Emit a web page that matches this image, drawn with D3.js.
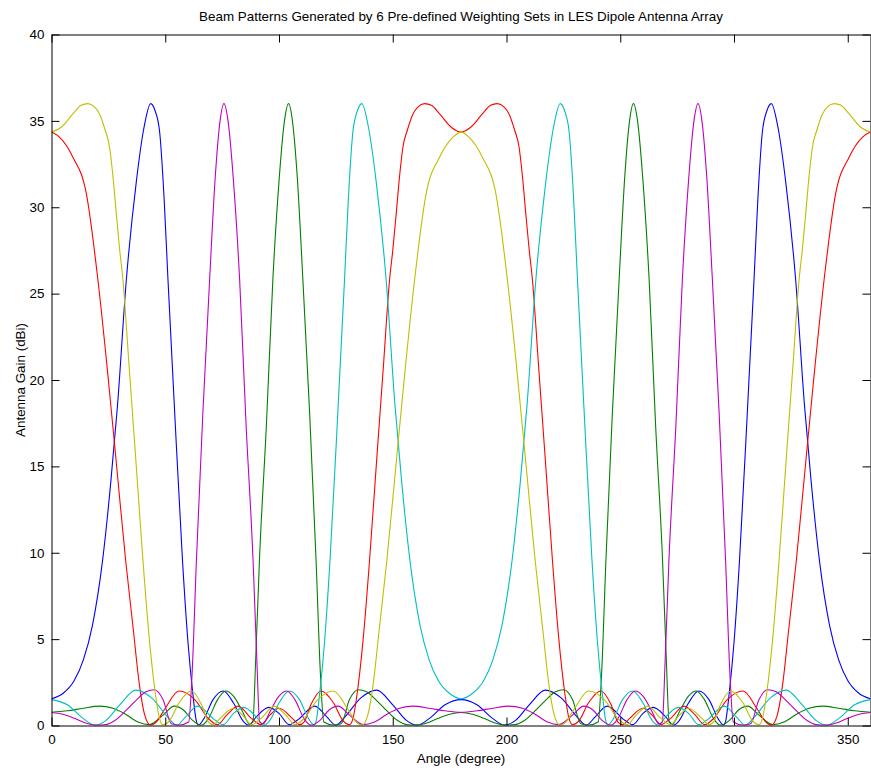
<!DOCTYPE html>
<html>
<head>
<meta charset="utf-8">
<script src="https://cdn.jsdelivr.net/npm/d3@7"></script>
<style>
  body { margin: 0; background: #fff; }
  text { font-family: "Liberation Sans", Arial, Helvetica, sans-serif; fill: #000; }
</style>
</head>
<body>
<svg id="chart" width="871" height="772"></svg>
<script>
// ---- chart text ----
const titleText = "Beam Patterns Generated by 6 Pre-defined Weighting Sets in LES Dipole Antenna Array";
const xLabel = "Angle (degree)";
const yLabel = "Antenna Gain (dBi)";

// ---- axis ticks ----
const xTicks = [0, 50, 100, 150, 200, 250, 300, 350];
const yTicks = [0, 5, 10, 15, 20, 25, 30, 35, 40];

// ---- beam patterns: [angle (deg), gain (dBi)] ----
const beamBlue = [
  [0,1.55],[5,1.85],[10,2.6],[14,3.8],[18,5.8],[22.4,9.5],[26,14],[29,18.5],[32.9,25.8],[37.3,31.5],
  [40.5,34.5],[43.6,36.0],[45.5,35.6],[47.5,34.4],[49.5,30.5],[51.2,25.8],[54,18.5],[57.6,9.5],[60,4.8],
  [62,2],[63.6,0.3],[64.5,0.02],[67,0.4],[71,1.5],[75.5,2.0],[80,1.3],[84,0.3],[86.5,0.02],[90,0.5],
  [95.5,1.05],[100,0.7],[104.5,0.05],[108,0.3],[115.8,1.12],[121,0.5],[125,0.02],[129,0.5],[136,1.6],
  [142.9,2.05],[150,1.2],[156,0.3],[160.9,0.02],[166,0.4],[173,1.2],[180,1.5],
  [187,1.2],[194,0.4],[199.1,0.02],[204,0.3],[210,1.2],[217.1,2.05],[224,1.6],[231,0.5],[235,0.02],
  [239,0.5],[244.2,1.12],[252,0.3],[255.5,0.05],[260,0.7],[264.5,1.05],[270,0.5],[273.5,0.02],[276,0.3],
  [280,1.3],[284.5,2.0],[289,1.5],[293,0.4],[295.5,0.02],[296.4,0.3],[298,2],[300,4.8],[302.4,9.5],
  [306,18.5],[308.8,25.8],[310.5,30.5],[312.5,34.4],[314.5,35.6],[316.4,36.0],[319.5,34.5],[322.7,31.5],
  [327.1,25.8],[331,18.5],[334,14],[337.6,9.5],[342,5.8],[346,3.8],[350,2.6],[355,1.85],[360,1.55]
];

const beamGreen = [
  [0,0.77],[7,0.85],[14,1.0],[21,1.12],[27,1.0],[32,0.7],[38,0.2],[43,0.05],[49,0.6],[54,1.12],
  [58,0.9],[62,0.3],[66,0.02],[69,0.4],[73,1.5],[76.6,2.0],[80,1.7],[84,0.8],[87,0.1],[88.5,0.2],
  [89.8,4],[91.4,9.55],[94.5,17.5],[97.3,25.8],[100,31.5],[102.4,35],[104.2,36],[106,34.9],[108,31.8],
  [110.5,25.8],[113.5,18],[116.3,9.55],[118.2,3],[119.7,0.2],[124,0.02],[127.3,0.1],[131,1.5],
  [134.7,2.07],[138.5,1.95],[142.5,1.5],[147,0.9],[152,0.3],[156,0.05],[160,0.02],[165,0.15],
  [170,0.42],[175,0.65],[180,0.75],
  [185,0.65],[190,0.42],[195,0.15],[200,0.02],[204,0.05],[208,0.3],[213,0.9],[217.5,1.5],[221.5,1.95],
  [225.3,2.07],[229,1.5],[232.7,0.1],[236,0.02],[240.3,0.2],[241.8,3],[243.7,9.55],[246.5,18],
  [249.5,25.8],[252,31.8],[254,34.9],[255.8,36],[257.6,35],[260,31.5],[262.7,25.8],[265.5,17.5],
  [268.6,9.55],[270.2,4],[271.5,0.2],[273,0.1],[276,0.8],[280,1.7],[283.4,2.0],[287,1.5],[291,0.4],
  [294,0.02],[298,0.3],[302,0.9],[306,1.12],[311,0.6],[317,0.05],[322,0.2],[328,0.7],[333,1.0],
  [339,1.12],[346,1.0],[353,0.85],[360,0.77]
];

const beamRed = [
  [0,34.35],[3.5,34.06],[9.4,32.9],[15.3,30.8],[20.4,25.8],[25,20],[29,14.5],[32.6,9.55],[36,5.5],
  [38.5,2.5],[41,0.6],[43.5,0.02],[46,0.2],[50,1.0],[56,2.0],[63,1.5],[69,0.4],[73,0.05],[77,0.6],
  [82,1.12],[88,0.4],[92,0.05],[96,0.6],[100,1.0],[106,0.4],[109,0.05],[111,0.2],[114,1.2],
  [118.5,2.0],[124,1.3],[128,0.3],[131,0.05],[132.5,0.4],[134.5,2],[137,5],[139.8,9.55],[143,15.5],
  [146,21],[148.6,25.8],[150,27.5],[151.5,29.6],[153,31.8],[154.5,33.5],[156.5,34.5],[158.9,35.4],
  [161,35.8],[164,36.0],[167,35.9],[170.6,35.4],[176,34.6],[180,34.35],
  [184,34.6],[189.4,35.4],[193,35.9],[196,36.0],[199,35.8],[201.1,35.4],[203.5,34.5],[205.5,33.5],
  [207,31.8],[208.5,29.6],[210,27.5],[211.4,25.8],[214,21],[217,15.5],[220.2,9.55],[223,5],
  [225.5,2],[227.5,0.4],[229,0.05],[232,0.3],[236,1.3],[241.5,2.0],[246,1.2],[249,0.2],[251,0.05],
  [254,0.4],[260,1.0],[264,0.6],[268,0.05],[272,0.4],[278,1.12],[283,0.6],[287,0.05],[291,0.4],
  [297,1.5],[304,2.0],[310,1.0],[314,0.2],[316.5,0.02],[319,0.6],[321.5,2.5],[324,5.5],[327.4,9.55],
  [331,14.5],[335,20],[339.6,25.8],[344.7,30.8],[350.6,32.9],[356.5,34.06],[360,34.35]
];

const beamCyan = [
  [0,1.5],[7,1.2],[14,0.4],[19.1,0.02],[24,0.3],[30,1.2],[37.1,2.05],[44,1.6],[51,0.5],[55,0.02],
  [59,0.5],[64.2,1.12],[72,0.3],[75.5,0.05],[80,0.7],[84.5,1.05],[90,0.5],[93.5,0.02],[96,0.3],
  [100,1.3],[104.5,2.0],[109,1.5],[113,0.4],[115.5,0.02],[116.4,0.3],[118,2],[120,4.8],[122.4,9.5],
  [126,18.5],[128.8,25.8],[130.5,30.5],[132.5,34.4],[134.5,35.6],[136.4,36.0],[139.5,34.5],
  [142.7,31.5],[147.1,25.8],[151,18.5],[154,14],[157.6,9.5],[162,5.8],[166,3.8],[170,2.6],
  [175,1.85],[180,1.55],
  [185,1.85],[190,2.6],[194,3.8],[198,5.8],[202.4,9.5],[206,14],[209,18.5],[212.9,25.8],[217.3,31.5],
  [220.5,34.5],[223.6,36],[225.5,35.6],[227.5,34.4],[229.5,30.5],[231.2,25.8],[234,18.5],[237.6,9.5],
  [240,4.8],[242,2],[243.6,0.3],[244.5,0.02],[247,0.4],[251,1.5],[255.5,2.0],[260,1.3],[264,0.3],
  [266.5,0.02],[270,0.5],[275.5,1.05],[280,0.7],[284.5,0.05],[288,0.3],[295.8,1.12],[301,0.5],
  [305,0.02],[309,0.5],[316,1.6],[322.9,2.05],[330,1.2],[336,0.3],[340.9,0.02],[346,0.4],[353,1.2],
  [360,1.5]
];

const beamMagenta = [
  [0,0.75],[5,0.65],[10,0.42],[15,0.15],[20,0.02],[24,0.05],[28,0.3],[33,0.9],[37.5,1.5],[41.5,1.95],
  [45.3,2.07],[49,1.5],[52.7,0.1],[56,0.02],[60.3,0.2],[61.8,3],[63.7,9.55],[66.5,18],[69.5,25.8],
  [72,31.8],[74,34.9],[75.8,36],[77.6,35],[80,31.5],[82.7,25.8],[85.5,17.5],[88.6,9.55],[90.2,4],
  [91.5,0.2],[93,0.1],[96,0.8],[100,1.7],[103.4,2.0],[107,1.5],[111,0.4],[114,0.02],[118,0.3],
  [122,0.9],[126,1.12],[131,0.6],[137,0.05],[142,0.2],[148,0.7],[153,1.0],[159,1.12],[166,1.0],
  [173,0.85],[180,0.77],
  [187,0.85],[194,1.0],[201,1.12],[207,1.0],[212,0.7],[218,0.2],[223,0.05],[229,0.6],[234,1.12],
  [238,0.9],[242,0.3],[246,0.02],[249,0.4],[253,1.5],[256.6,2.0],[260,1.7],[264,0.8],[267,0.1],
  [268.5,0.2],[269.8,4],[271.4,9.55],[274.5,17.5],[277.3,25.8],[280,31.5],[282.4,35],[284.2,36],
  [286,34.9],[288,31.8],[290.5,25.8],[293.5,18],[296.3,9.55],[298.2,3],[299.7,0.2],[304,0.02],
  [307.3,0.1],[311,1.5],[314.7,2.07],[318.5,1.95],[322.5,1.5],[327,0.9],[332,0.3],[336,0.05],
  [340,0.02],[345,0.15],[350,0.42],[355,0.65],[360,0.75]
];

const beamYellow = [
  [0,34.35],[4,34.6],[9.4,35.4],[13,35.9],[16,36.0],[19,35.8],[21.1,35.4],[23.5,34.5],[25.5,33.5],
  [27,31.8],[28.5,29.6],[30,27.5],[31.4,25.8],[34,21],[37,15.5],[40.2,9.55],[43,5],[45.5,2],
  [47.5,0.4],[49,0.05],[52,0.3],[56,1.3],[61.5,2.0],[66,1.2],[69,0.2],[71,0.05],[74,0.4],[80,1.0],
  [84,0.6],[88,0.05],[92,0.4],[98,1.12],[103,0.6],[107,0.05],[111,0.4],[117,1.5],[124,2.0],[130,1.0],
  [134,0.2],[136.5,0.02],[139,0.6],[141.5,2.5],[144,5.5],[147.4,9.55],[151,14.5],[155,20],
  [159.6,25.8],[164.7,30.8],[170.6,32.9],[176.5,34.06],[180,34.35],
  [183.5,34.06],[189.4,32.9],[195.3,30.8],[200.4,25.8],[205,20],[209,14.5],[212.6,9.55],[216,5.5],
  [218.5,2.5],[221,0.6],[223.5,0.02],[226,0.2],[230,1.0],[236,2.0],[243,1.5],[249,0.4],[253,0.05],
  [257,0.6],[262,1.12],[268,0.4],[272,0.05],[276,0.6],[280,1.0],[286,0.4],[289,0.05],[291,0.2],
  [294,1.2],[298.5,2.0],[304,1.3],[308,0.3],[311,0.05],[312.5,0.4],[314.5,2],[317,5],[319.8,9.55],
  [323,15.5],[326,21],[328.6,25.8],[330,27.5],[331.5,29.6],[333,31.8],[334.5,33.5],[336.5,34.5],
  [338.9,35.4],[341,35.8],[344,36.0],[347,35.9],[350.6,35.4],[356,34.6],[360,34.35]
];

// plotting order and line colours
const seriesList = [beamBlue, beamGreen, beamRed, beamCyan, beamMagenta, beamYellow];
const seriesColors = ["#0000ff", "#008000", "#ff0000", "#00bfbf", "#bf00bf", "#bfbf00"];

// ---- layout ----
const svg = d3.select("#chart");
const W = 871, H = 772;
const plotL = 51.5, plotR = 870.5, plotT = 34.5, plotB = 725.5;

svg.append("rect").attr("width", W).attr("height", H).attr("fill", "#fff");

const x = d3.scaleLinear().domain([0, 360]).range([plotL, plotR]);
const y = d3.scaleLinear().domain([0, 40]).range([plotB, plotT]);

// clip the curves to the axes box
svg.append("clipPath").attr("id", "plotClip")
  .append("rect").attr("x", plotL).attr("y", plotT - 1)
  .attr("width", plotR - plotL).attr("height", plotB - plotT + 1);

const line = d3.line()
  .x(d => x(d[0]))
  .y(d => y(d[1]))
  .curve(d3.curveMonotoneX);

const plot = svg.append("g").attr("clip-path", "url(#plotClip)");
seriesList.forEach((s, i) => {
  plot.append("path")
    .datum(s)
    .attr("d", line)
    .attr("fill", "none")
    .attr("stroke", seriesColors[i])
    .attr("stroke-width", 1.1)
    .attr("stroke-linejoin", "round");
});

// ---- axes (box with inward ticks) ----
const fontSize = 13.4;
const tickLen = 8;

const gx = svg.append("g").attr("transform", `translate(0,${plotB})`)
  .call(d3.axisBottom(x).tickValues(xTicks).tickSizeInner(-tickLen).tickSizeOuter(0).tickPadding(9));
const gxTop = svg.append("g").attr("transform", `translate(0,${plotT})`)
  .call(d3.axisTop(x).tickValues(xTicks).tickSizeInner(-tickLen).tickSizeOuter(0).tickFormat(""));
const gy = svg.append("g").attr("transform", `translate(${plotL},0)`)
  .call(d3.axisLeft(y).tickValues(yTicks).tickSizeInner(-tickLen).tickSizeOuter(0).tickPadding(7));
const gyRight = svg.append("g").attr("transform", `translate(${plotR},0)`)
  .call(d3.axisRight(y).tickValues(yTicks).tickSizeInner(-tickLen).tickSizeOuter(0).tickFormat(""));

[gx, gxTop, gy, gyRight].forEach(g => {
  g.select(".domain").attr("stroke", "#000").attr("stroke-width", 1);
  g.selectAll(".tick line").attr("stroke", "#000").attr("stroke-width", 1);
  g.selectAll("text").attr("font-size", fontSize).attr("font-family", null).attr("fill", "#000");
});

// ---- titles ----
svg.append("text")
  .attr("x", (plotL + plotR) / 2).attr("y", 21)
  .attr("text-anchor", "middle").attr("font-size", fontSize)
  .text(titleText);

svg.append("text")
  .attr("x", (plotL + plotR) / 2).attr("y", 763)
  .attr("text-anchor", "middle").attr("font-size", fontSize)
  .text(xLabel);

svg.append("text")
  .attr("transform", `translate(25,${(plotT + plotB) / 2}) rotate(-90)`)
  .attr("text-anchor", "middle").attr("font-size", fontSize)
  .text(yLabel);
</script>
</body>
</html>
